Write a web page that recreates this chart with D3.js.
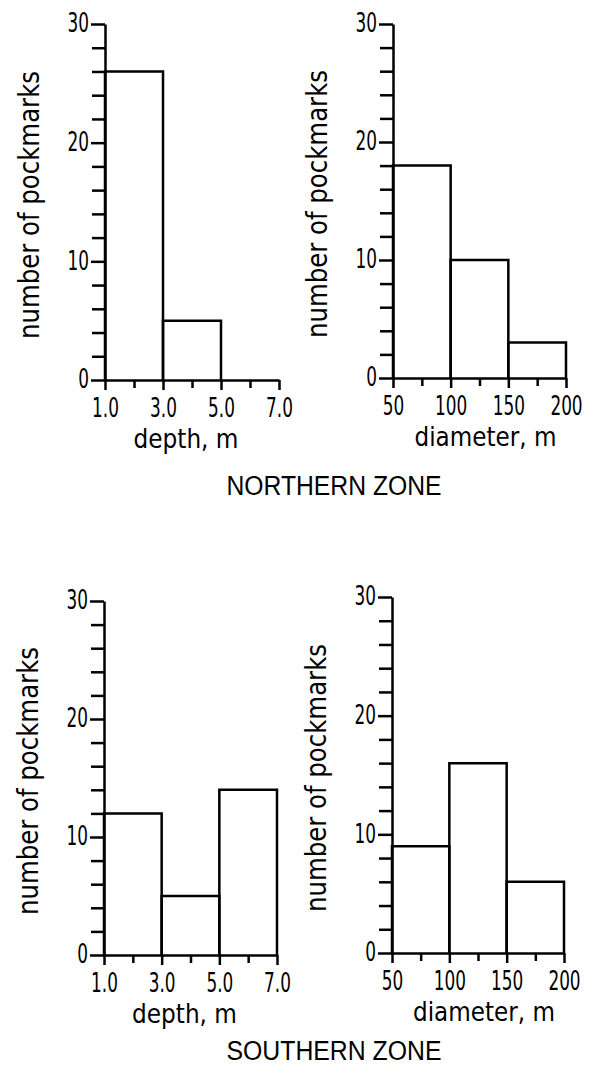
<!DOCTYPE html>
<meta charset="utf-8">
<style>
    body { margin: 0; background: #fff; }
    .axis path, .axis line, .bar {
        fill: none;
        stroke: #000;
        stroke-width: 2.5px;
    }
    .axis text, .xlabel, .ylabel {
        font-family: "DejaVu Sans", sans-serif;
        fill: #000;
    }
    .zone {
        font-family: "Liberation Sans", Arial, sans-serif;
        fill: #000;
    }
</style>
<svg width="593" height="1081"></svg>
<script src="https://cdnjs.cloudflare.com/ajax/libs/d3/7.8.5/d3.min.js"></script>
<script>
    // bin edges
    const depthBins = [1, 3, 5, 7];
    const diameterBins = [50, 100, 150, 200];
    const depthMinor = [2, 4, 6];
    const diameterMinor = [75, 125, 175];
    const depthTickLabels = ["1.0", "3.0", "5.0", "7.0"];
    const diameterTickLabels = ["50", "100", "150", "200"];

    // counts per bin
    const northDepth = [26, 5, 0];
    const northDiameter = [18, 10, 3];
    const southDepth = [12, 5, 14];
    const southDiameter = [9, 16, 6];

    const yMajor = [0, 10, 20, 30];
    const yMinor = [2, 4, 6, 8, 12, 14, 16, 18, 22, 24, 26, 28];
    const zones = ["NORTHERN ZONE", "SOUTHERN ZONE"];

    var svg = d3.select("svg");
    var squeeze = 0.65;   // the original lettering is very narrow

    function panel(p) {
        var g = svg.append("g");

        var x = d3.scaleLinear().domain([p.bins[0], p.bins[p.bins.length - 1]]).range([p.left, p.right]),
            y = d3.scaleLinear().domain([0, 30]).range([p.bottom, p.top]);

        var data = p.counts.map(function(c, i) {
            return { x0: p.bins[i], x1: p.bins[i + 1], n: c };
        });

        g.selectAll(".bar")
            .data(data.filter(d => d.n > 0))
            .enter().append("path")
            .attr("class", "bar")
            .attr("d", function(d) {
                return "M" + x(d.x0) + "," + y(0) + "V" + y(d.n) + "H" + x(d.x1) + "V" + y(0);
            });

        // y axis
        g.append("g")
            .attr("class", "axis")
            .attr("transform", "translate(" + x(p.bins[0]) + ",0)")
            .call(d3.axisLeft(y).tickValues(yMinor).tickSize(13).tickSizeOuter(0).tickFormat(""));
        var ya = g.append("g")
            .attr("class", "axis")
            .attr("transform", "translate(" + x(p.bins[0]) + ",0)")
            .call(d3.axisLeft(y).tickValues(yMajor).tickSize(14).tickSizeOuter(0));
        ya.selectAll("text")
            .attr("font-size", 26)
            .attr("x", -16 / squeeze)
            .attr("dy", "0.3em")
            .attr("transform", "scale(" + squeeze + ",1)");
        ya.select(".domain").remove();

        // x axis
        g.append("g")
            .attr("class", "axis")
            .attr("transform", "translate(0," + y(0) + ")")
            .call(d3.axisBottom(x).tickValues(p.minor).tickSize(8).tickSizeOuter(0).tickFormat(""));
        var xa = g.append("g")
            .attr("class", "axis")
            .attr("transform", "translate(0," + y(0) + ")")
            .call(d3.axisBottom(x).tickValues(p.bins).tickSize(10).tickSizeOuter(0)
                .tickFormat(function(d, i) { return p.labels[i]; }));
        xa.selectAll("text")
            .attr("font-size", 26)
            .attr("y", 37)
            .attr("dy", 0)
            .attr("transform", "scale(" + squeeze + ",1)");
        xa.select(".domain").remove();

        g.append("text")
            .attr("class", "xlabel")
            .attr("x", (p.left + p.right) / 2 + p.titleShift)
            .attr("y", p.bottom + 68)
            .attr("text-anchor", "middle")
            .attr("textLength", p.titleLen)
            .attr("lengthAdjust", "spacingAndGlyphs")
            .style("font-size", "27px")
            .text(p.title);

        g.append("text")
            .attr("class", "ylabel")
            .attr("transform", "translate(" + (p.left - 66) + "," + ((p.top + p.bottom) / 2 + 3) + ") rotate(-90)")
            .attr("text-anchor", "middle")
            .attr("textLength", 268)
            .attr("lengthAdjust", "spacingAndGlyphs")
            .style("font-size", "29px")
            .text("number of pockmarks");
    }

    panel({ left: 105, top: 24, right: 279, bottom: 380, bins: depthBins, minor: depthMinor,
            labels: depthTickLabels, counts: northDepth, title: "depth, m", titleLen: 105, titleShift: -6 });
    panel({ left: 393, top: 24, right: 566, bottom: 378, bins: diameterBins, minor: diameterMinor,
            labels: diameterTickLabels, counts: northDiameter, title: "diameter, m", titleLen: 142, titleShift: 6 });
    panel({ left: 104, top: 601, right: 277, bottom: 955, bins: depthBins, minor: depthMinor,
            labels: depthTickLabels, counts: southDepth, title: "depth, m", titleLen: 105, titleShift: -6 });
    panel({ left: 392, top: 597, right: 564, bottom: 953, bins: diameterBins, minor: diameterMinor,
            labels: diameterTickLabels, counts: southDiameter, title: "diameter, m", titleLen: 142, titleShift: 6 });

    svg.selectAll(".zone")
        .data(zones)
        .enter().append("text")
        .attr("class", "zone")
        .attr("x", 334)
        .attr("y", function(d, i) { return i === 0 ? 495 : 1060; })
        .attr("text-anchor", "middle")
        .attr("textLength", 215)
        .attr("lengthAdjust", "spacingAndGlyphs")
        .style("font-size", "27px")
        .text(d => d);
</script>
